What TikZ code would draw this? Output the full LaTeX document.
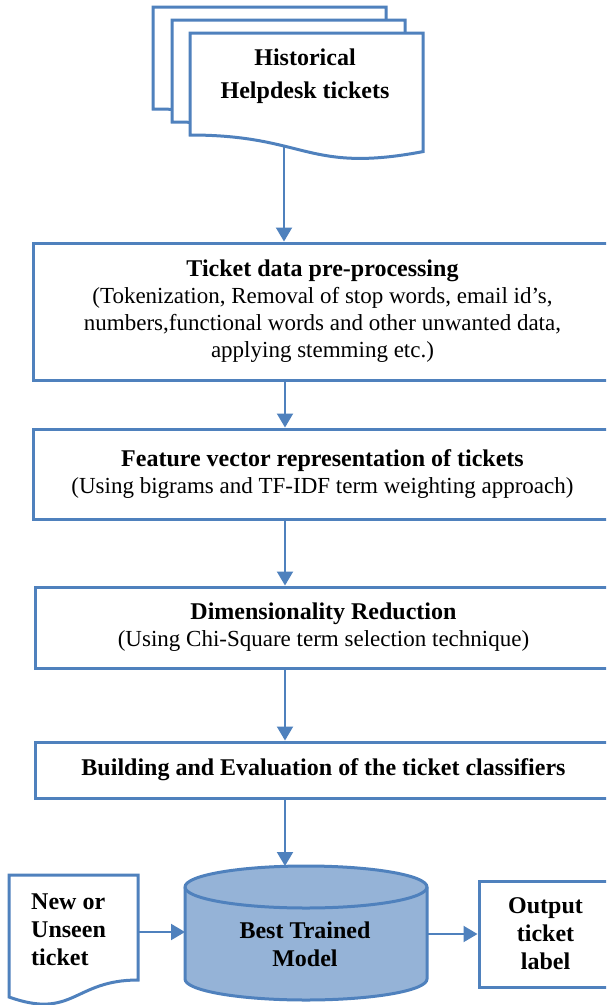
\documentclass[tikz,border=0pt]{standalone}
\usepackage{fontspec}
\setmainfont{Liberation Serif}
\usetikzlibrary{arrows.meta}
\definecolor{lineblue}{HTML}{4F81BD}
\definecolor{cylfill}{HTML}{95B3D7}
\newcommand{\steptitle}[1]{{\fontsize{24}{27}\selectfont\bfseries #1}}

\begin{document}
\begin{tikzpicture}[x=1pt,y=-1pt,
  outline/.style={draw=lineblue, line width=3pt},
  stepbox/.style={outline, rectangle, align=center, inner sep=0pt,
    font=\fontsize{23}{27}\selectfont},
  lbl/.style={align=center, inner sep=0pt,
    font=\fontsize{24}{28}\selectfont\bfseries},
  flow/.style={draw=lineblue, line width=2pt,
    -{Triangle[width=16pt,length=14pt]}},
  pics/tickdoc/.style={code={
    \draw[outline, fill=white] (0,0) -- (233,0) -- (233,118.6)
      .. controls (116.5,140.7) and (116.5,102) .. (0,102) -- cycle;
  }}]
\clip (0,0) rectangle (606,1005);
\fill[white] (0,0) rectangle (606,1005);

% stacked historical ticket documents
\pic at (153,7) {tickdoc};
\pic at (172,20) {tickdoc};
\pic at (190,33) {tickdoc};
\node[lbl] (hist) at (305,76) {Historical\\[5pt]Helpdesk tickets};
\coordinate (docbase) at (284,147);
\coordinate (spine) at (285,0);

% processing steps
\node[stepbox, minimum width=579pt, minimum height=137pt] (prep) at (322.5,311.5)
  {\steptitle{Ticket data pre-processing}\\
   (Tokenization, Removal of stop words, email id’s,\\
   numbers,functional words and other unwanted data,\\
   applying stemming etc.)};
\node[stepbox, minimum width=579pt, minimum height=90pt] (feat) at (322.5,474)
  {\steptitle{Feature vector representation of tickets}\\
   (Using bigrams and TF-IDF term weighting approach)};
\node[stepbox, minimum width=577pt, minimum height=81pt] (dim) at (323.5,627.5)
  {\steptitle{Dimensionality Reduction}\\
   (Using Chi-Square term selection technique)};
\node[stepbox, minimum width=577pt, minimum height=56pt] (build) at (323.5,770)
  {\steptitle{Building and Evaluation of the ticket classifiers}};

% trained model store
\draw[outline, fill=cylfill] (185,887) -- (185,979)
  arc[start angle=180, end angle=360, x radius=121pt, y radius=21pt]
  -- (427,887)
  arc[start angle=0, end angle=180, x radius=121pt, y radius=21pt] -- cycle;
\draw[outline] (185,887)
  arc[start angle=180, end angle=360, x radius=121pt, y radius=21pt];
\node[lbl] (model) at (305,944) {Best Trained\\Model};
\coordinate (cyltop) at (285,866);
\coordinate (cylleft) at (185,932);
\coordinate (cylright) at (427,934);

% new ticket document
\draw[outline, fill=white] (9,875) -- (138,875) -- (138,980)
  .. controls (73.5,980) and (73.5,1020) .. (9,997) -- cycle;
\node[lbl, align=left, anchor=west] (newdoc) at (31,930) {New or\\Unseen\\ticket};
\coordinate (newright) at (138,932);

% output
\node[stepbox, font=\fontsize{24}{28}\selectfont\bfseries,
  minimum width=133pt, minimum height=106pt] (out) at (545.5,934)
  {Output\\ticket\\label};

% connectors
\draw[flow] (docbase) -- (docbase |- prep.north);
\draw[flow] (prep.south -| spine) -- (feat.north -| spine);
\draw[flow] (feat.south -| spine) -- (dim.north -| spine);
\draw[flow] (dim.south -| spine) -- (build.north -| spine);
\draw[flow] (build.south -| spine) -- (cyltop);
\draw[flow] (newright) -- (cylleft);
\draw[flow] (cylright) -- (out.west);
\end{tikzpicture}
\end{document}
